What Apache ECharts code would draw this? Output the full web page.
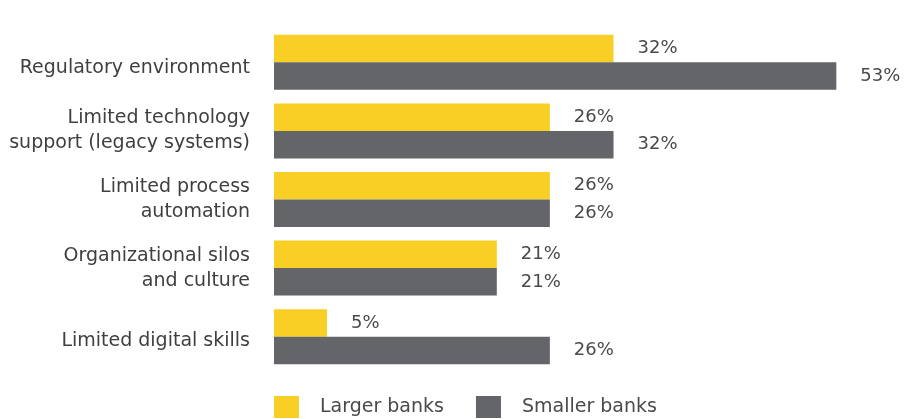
<!DOCTYPE html>
<html><head><meta charset="utf-8">
<script src="https://cdn.jsdelivr.net/npm/echarts@6/dist/echarts.min.js"></script>
<style>html,body{margin:0;padding:0;background:#fff}#c{width:904px;height:419px}</style>
</head><body><div id="c"></div>
<script>
const categories = ["Regulatory environment", "Limited technology\nsupport (legacy systems)", "Limited process\nautomation", "Organizational silos\nand culture", "Limited digital skills"];
const largerBanks = [32, 26, 26, 21, 5];
const smallerBanks = [53, 32, 26, 21, 26];
const seriesNames = ["Larger banks", "Smaller banks"];
const colors = ["#F9CF25", "#646569"];

const chart = echarts.init(document.getElementById('c'), null, {renderer: 'canvas'});
const labelStyle = {show: true, position: 'right', distance: 24, formatter: '{c}%', color: '#4a4a4a', fontSize: 18, fontFamily: 'DejaVu Sans'};
const catFont = {color: '#3f3f3f', fontSize: 19, fontFamily: 'DejaVu Sans', lineHeight: 25};
chart.setOption({
  animation: false,
  grid: {left: 274, top: 28, height: 343, width: 626},
  xAxis: {type: 'value', min: 0, max: 59, show: false},
  yAxis: {type: 'category', data: categories, inverse: true,
    axisLine: {show: false}, axisTick: {show: false},
    axisLabel: Object.assign({}, catFont, {margin: 24, align: 'right',
      formatter: function (v, i) {
        if (v.indexOf('\n') >= 0) return v;
        return (i === 0 ? '{d12|' : '{d8|') + v + '}';
      },
      rich: {
        d12: Object.assign({}, catFont, {padding: [12, 0, 0, 0]}),
        d8: Object.assign({}, catFont, {padding: [8, 0, 0, 0]})
      }})},
  legend: {left: 269, top: 391, itemWidth: 25, itemHeight: 22, itemGap: 32, icon: 'rect',
    textStyle: {color: '#4a4a4a', fontSize: 19, fontFamily: 'DejaVu Sans', padding: [0, 0, 0, 16]},
    data: seriesNames},
  series: [
    {name: seriesNames[0], type: 'bar', data: largerBanks, barWidth: 27.5, barGap: '0%', itemStyle: {color: colors[0]}, label: labelStyle},
    {name: seriesNames[1], type: 'bar', data: smallerBanks, barWidth: 27.5, barGap: '0%', itemStyle: {color: colors[1]}, label: labelStyle}
  ]
});
</script></body></html>
